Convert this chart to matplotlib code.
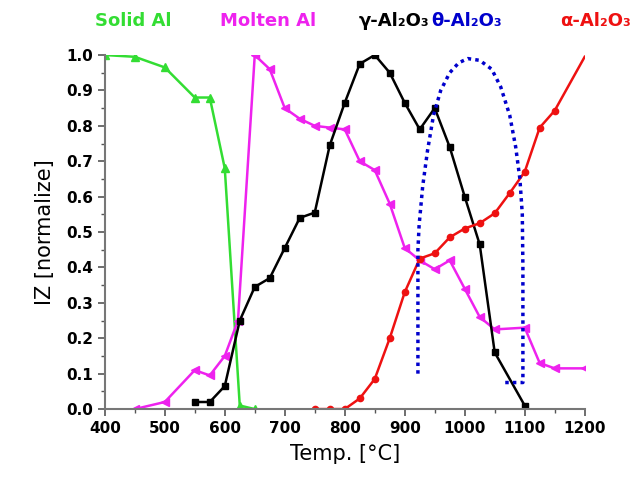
import matplotlib as mpl
mpl.use('Agg')
import matplotlib.pyplot as plt

# Solid Al
solid_t = [400, 450, 500, 550, 575, 600, 625, 650]
solid_iz = [1.0, 0.995, 0.965, 0.88, 0.88, 0.68, 0.01, 0.0]

# Molten Al
molten_t = [450, 500, 550, 575, 600, 622, 650, 675, 700, 725, 750, 775, 800, 825, 850, 875,
            900, 925, 950, 975, 1000, 1025, 1050, 1100, 1125, 1150, 1200]
molten_iz = [0.0, 0.02, 0.11, 0.095, 0.15, 0.25, 1.0, 0.96, 0.85, 0.82, 0.80, 0.795, 0.79, 0.70,
             0.675, 0.58, 0.455, 0.42, 0.395, 0.42, 0.34, 0.26, 0.225, 0.23, 0.13, 0.115, 0.115]

# gamma-Al2O3
gamma_t = [550, 575, 600, 625, 650, 675, 700, 725, 750, 775, 800, 825, 850, 875, 900, 925,
           950, 975, 1000, 1025, 1050, 1100]
gamma_iz = [0.02, 0.02, 0.065, 0.25, 0.345, 0.37, 0.455, 0.54, 0.555, 0.745, 0.865, 0.975,
            1.0, 0.95, 0.865, 0.79, 0.85, 0.74, 0.60, 0.465, 0.16, 0.01]

# theta-Al2O3 (dotted envelope)
theta_t = [922, 922, 922, 924, 930, 938, 948, 960, 975, 990, 1005, 1025, 1045, 1060, 1075,
           1085, 1092, 1096, 1097, 1097, 1097, 1080, 1065]
theta_iz = [0.10, 0.30, 0.45, 0.52, 0.63, 0.73, 0.83, 0.90, 0.95, 0.978, 0.99, 0.985, 0.96,
            0.91, 0.83, 0.74, 0.65, 0.55, 0.40, 0.20, 0.075, 0.075, 0.075]

# alpha-Al2O3
alpha_t = [750, 775, 800, 825, 850, 875, 900, 925, 950, 975, 1000, 1025, 1050, 1075, 1100,
           1125, 1150]
alpha_iz = [0.0, 0.0, 0.0, 0.03, 0.085, 0.2, 0.33, 0.425, 0.44, 0.485, 0.51, 0.525, 0.553,
            0.61, 0.67, 0.795, 0.843]
alpha_end_t = [1150, 1200]
alpha_end_iz = [0.843, 0.995]

green = '#33dd33'
magenta = '#ee22ee'
blue = '#0000cc'
red = '#ee1111'

fig = plt.figure(figsize=(6.39, 4.87), dpi=100)
ax = fig.add_axes([0.164, 0.160, 0.751, 0.727])

ax.plot(solid_t, solid_iz, color=green, marker='^', ms=5.5, lw=1.8)
ax.plot(molten_t, molten_iz, color=magenta, marker='<', ms=5.5, lw=1.8)
ax.plot(gamma_t, gamma_iz, color='black', marker='s', ms=4.5, lw=1.8)
ax.plot(alpha_t, alpha_iz, color=red, marker='o', ms=4.5, lw=1.8)
ax.plot(alpha_end_t, alpha_end_iz, color=red, lw=1.8)
ax.plot(theta_t, theta_iz, color=blue, lw=2.5, linestyle=(0, (1, 1.2)))

ax.set_xlim(400, 1200)
ax.set_ylim(0, 1.0)
ax.set_xticks(range(400, 1201, 100))
ax.set_xticks(range(450, 1200, 100), minor=True)
ax.set_yticks([i / 10 for i in range(11)])
ax.set_yticks([i / 20 for i in range(1, 20, 2)], minor=True)
ax.set_yticklabels(['%.1f' % (i / 10) for i in range(11)])

for s in ['top', 'right']:
    ax.spines[s].set_visible(False)
for s in ['left', 'bottom']:
    ax.spines[s].set_color('#777777')
    ax.spines[s].set_linewidth(1.5)
ax.tick_params(which='both', direction='out', color='#555555')
ax.tick_params(which='major', length=5, width=1.2, labelsize=11)
ax.tick_params(which='minor', length=3, width=1)
for lab in ax.get_xticklabels() + ax.get_yticklabels():
    lab.set_fontweight('bold')

ax.set_xlabel('Temp. [°C]', fontsize=15, labelpad=6)
ax.set_ylabel('IZ [normalize]', fontsize=15, labelpad=8)

fig.text(0.148, 0.957, 'Solid Al', color=green, fontsize=13, fontweight='bold', va='center')
fig.text(0.345, 0.957, 'Molten Al', color=magenta, fontsize=13, fontweight='bold', va='center')
fig.text(0.562, 0.957, 'γ-Al₂O₃', color='black', fontsize=13, fontweight='bold', va='center')
fig.text(0.675, 0.957, 'θ-Al₂O₃', color=blue, fontsize=13, fontweight='bold', va='center')
fig.text(0.877, 0.957, 'α-Al₂O₃', color=red, fontsize=13, fontweight='bold', va='center')

plt.savefig('out.png', dpi=100)
